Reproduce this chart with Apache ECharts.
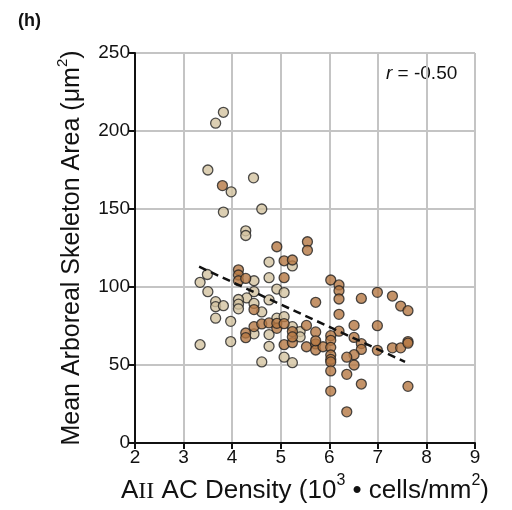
<!DOCTYPE html>
<html><head><meta charset="utf-8">
<script src="https://cdn.jsdelivr.net/npm/echarts@6/dist/echarts.min.js"></script>
<style>html,body{margin:0;padding:0;background:#fff}#c{width:512px;height:510px}</style>
</head><body><div id="c"></div>
<script>
const xTicks = [2,3,4,5,6,7,8,9];
const yTicks = [0,50,100,150,200,250];
const lightX = [3.82,3.66,3.50,3.98,4.44,3.82,4.61,4.28,4.28,3.49,3.34,3.50,4.45,4.45,4.30,4.13,4.13,4.13,4.45,3.66,3.66,3.82,3.66,3.97,4.61,4.76,5.24,4.76,4.92,5.07,4.76,3.34,3.97,4.45,4.61,4.92,5.07,4.76,5.24,5.40,5.40,4.76,5.07,5.24];
const lightY = [212,205,175,161,170,148,150,136,133,108,103,97,104,97,93,92,89,86,89.5,90.6,87.4,88,80,78,84,116,113.5,106,98.7,96.4,91.7,63,65,70,52,80,81,69.5,74.6,71.4,68,62,55,51.5];
const darkX = [3.80,4.13,4.13,4.13,4.28,4.45,4.28,4.28,4.45,4.61,4.76,4.92,4.92,5.07,5.24,5.53,5.07,5.24,5.53,4.92,5.55,5.55,5.07,5.24,5.07,6.03,6.20,6.20,6.20,5.72,6.66,6.99,7.30,7.47,7.62,6.20,6.51,6.99,5.72,6.20,6.51,6.03,6.03,5.24,5.72,5.72,5.87,6.03,6.03,6.03,6.03,6.66,6.66,6.51,6.36,6.51,6.99,7.30,7.47,7.62,7.62,6.03,6.36,6.66,6.03,7.62,6.36,5.72];
const darkY = [165,111,107.7,104,105.5,85.5,70.5,67.5,74.6,76.3,77,73.5,76.7,76.5,71.4,75.4,63,64.3,61.7,125.8,129,123.5,116.8,117.3,106,104.5,101.3,97.6,92.3,90.2,92.7,96.6,94.2,87.8,84.8,82.5,75.4,75.2,71.2,71.7,67.7,68.8,65.8,68,63.5,59.6,61.7,61.3,56.4,53.6,52,63.7,60,56.6,55,50,59.4,61,61,65,64,46.2,44,37.8,33.3,36.3,20,65.5];
const fitX = [3.32,7.56];
const fitY = [113,52];

const zip = (a,b)=>a.map((v,i)=>[v,b[i]]);
const chart = echarts.init(document.getElementById('c'));
const F = 'Liberation Sans, Arial, Helvetica, sans-serif';
chart.setOption({
  animation:false,
  grid:{left:135,right:37,top:53,bottom:67,containLabel:false},
  xAxis:{type:'value',min:xTicks[0],max:xTicks[xTicks.length-1],interval:1,
    axisLine:{show:true,onZero:false,lineStyle:{color:'#111',width:2}},
    axisTick:{show:true,length:6,lineStyle:{color:'#111',width:2}},
    axisLabel:{color:'#111',fontSize:19,fontFamily:F,margin:5},
    splitLine:{show:true,lineStyle:{color:'#c4c4c4',width:2}},
    name:'{n|A}{ii|II}{n| AC Density (10}{sup|3}{n| • cells/mm}{sup|2}{n|)}',
    nameLocation:'middle',nameGap:30,
    nameTextStyle:{rich:{
      n:{fontSize:26,fontFamily:F,color:'#111',verticalAlign:'bottom',lineHeight:31},
      ii:{fontSize:24,fontFamily:'Liberation Serif, Times New Roman, serif',color:'#111',verticalAlign:'bottom',lineHeight:31},
      sup:{fontSize:16,fontFamily:F,color:'#111',verticalAlign:'top',lineHeight:31}}}
  },
  yAxis:{type:'value',min:yTicks[0],max:yTicks[yTicks.length-1],interval:50,
    axisLine:{show:true,onZero:false,lineStyle:{color:'#111',width:2}},
    axisTick:{show:true,length:6,lineStyle:{color:'#111',width:2}},
    axisLabel:{color:'#111',fontSize:19,fontFamily:F,margin:5},
    splitLine:{show:true,lineStyle:{color:'#c4c4c4',width:2}},
    name:'{n|Mean Arboreal Skeleton Area (μm}{sup|2}{n|)}',
    nameLocation:'middle',nameGap:50,nameRotate:90,
    nameTextStyle:{rich:{
      n:{fontSize:25,fontFamily:F,color:'#111',verticalAlign:'bottom',lineHeight:30},
      sup:{fontSize:15,fontFamily:F,color:'#111',verticalAlign:'top',lineHeight:30}}}
  },
  graphic:[
    {type:'text',left:18,top:12,style:{text:'(h)',font:'bold 18px '+F,fill:'#111'}},
    {type:'text',left:386,top:64,style:{text:'{i|r}{n| = -0.50}',rich:{i:{font:'italic 19px '+F,fill:'#111'},n:{font:'19px '+F,fill:'#111'}}}}
  ],
  series:[
    {type:'scatter',data:zip(lightX,lightY),symbolSize:10,z:3,
      itemStyle:{color:'#d3c3a0',borderColor:'#222',borderWidth:1.3}},
    {type:'scatter',data:zip(darkX,darkY),symbolSize:10,z:3,
      itemStyle:{color:'#b57844',borderColor:'#222',borderWidth:1.3}},
    {type:'line',data:zip(fitX,fitY),symbol:'none',z:4,
      lineStyle:{color:'#111',width:2.5,type:[8,5]}}
  ]
});
</script></body></html>
